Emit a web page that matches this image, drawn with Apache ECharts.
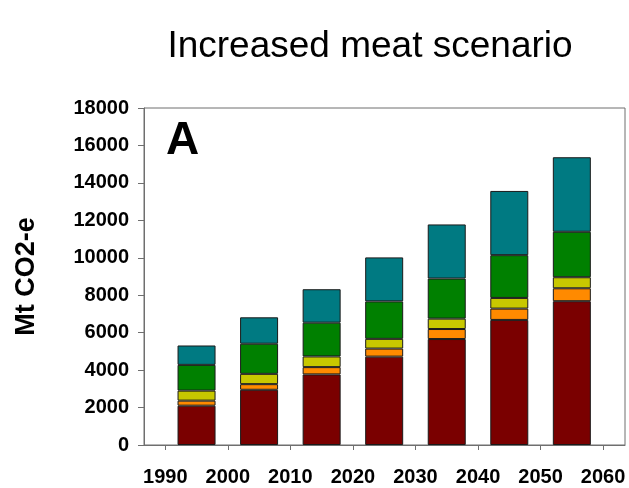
<!DOCTYPE html>
<html>
<head>
<meta charset="utf-8">
<script src="https://cdn.jsdelivr.net/npm/echarts@6/dist/echarts.min.js"></script>
<style>
  html, body { margin: 0; padding: 0; background: #fff; }
  #chart { width: 629px; height: 488px; }
</style>
</head>
<body>
<div id="chart"></div>
<script>
// Decade midpoints where each stacked bar sits
const years = [1995, 2005, 2015, 2025, 2035, 2045, 2055];
// Emission components, Mt CO2-e, stacked bottom to top
const seriesRed    = [2100, 2950, 3770, 4720, 5660, 6680, 7680];
const seriesOrange = [270, 300, 390, 430, 535, 605, 690];
const seriesYellow = [535, 550, 570, 520, 555, 570, 590];
const seriesGreen  = [1375, 1610, 1805, 2000, 2140, 2285, 2430];
const seriesTeal   = [1035, 1410, 1785, 2350, 2890, 3430, 3980];
// Axis tick labels
const xTicks = [1990, 2000, 2010, 2020, 2030, 2040, 2050, 2060];
const yTicks = [0, 2000, 4000, 6000, 8000, 10000, 12000, 14000, 16000, 18000];

const layers = [
  { name: 'red', values: seriesRed, color: '#7A0000' },
  { name: 'orange', values: seriesOrange, color: '#FF8A00' },
  { name: 'yellow', values: seriesYellow, color: '#C8C800' },
  { name: 'green', values: seriesGreen, color: '#008000' },
  { name: 'teal', values: seriesTeal, color: '#007A82' }
];

const font = 'Liberation Sans, Arial, Helvetica, sans-serif';
const axisGray = '#6f6f6f';

const chart = echarts.init(document.getElementById('chart'));
chart.setOption({
  animation: false,
  backgroundColor: '#fff',
  title: [
    {
      text: 'Increased meat scenario',
      left: 365, top: 23, textAlign: 'center',
      textStyle: { fontFamily: font, fontSize: 37, fontWeight: 'normal', color: '#000' }
    },
    {
      text: 'A',
      left: 161, top: 113,
      textStyle: { fontFamily: font, fontSize: 46, fontWeight: 'bold', color: '#000' }
    }
  ],
  grid: {
    left: 144, top: 108, right: 4, bottom: 43,
    show: true, borderColor: axisGray, borderWidth: 1
  },
  xAxis: {
    type: 'value',
    min: 1986.6, max: 2063.5,
    axisLine: { show: true, lineStyle: { color: axisGray } },
    axisTick: { show: true, length: 5, customValues: xTicks, lineStyle: { color: axisGray } },
    axisLabel: {
      customValues: xTicks, margin: 22,
      fontFamily: font, fontSize: 20, fontWeight: 'bold', color: '#000',
      formatter: v => String(v)
    },
    splitLine: { show: false }
  },
  yAxis: {
    type: 'value',
    min: yTicks[0], max: yTicks[yTicks.length - 1], interval: 2000,
    name: 'Mt CO2-e', nameLocation: 'middle', nameRotate: 90, nameGap: 104,
    nameTextStyle: { fontFamily: font, fontSize: 27, fontWeight: 'bold', color: '#000' },
    axisLine: { show: true, lineStyle: { color: axisGray } },
    axisTick: { show: true, length: 6, lineStyle: { color: axisGray } },
    axisLabel: {
      margin: 15,
      fontFamily: font, fontSize: 20, fontWeight: 'bold', color: '#000',
      formatter: v => String(v)
    },
    splitLine: { show: false }
  },
  // value first, year second, so the stack runs along the vertical value
  series: layers.map(l => ({
    name: l.name,
    type: 'bar',
    stack: 'total',
    barWidth: 38,
    encode: { x: 1, y: 0 },
    data: years.map((y, i) => [l.values[i], y]),
    itemStyle: { color: l.color, borderColor: '#1a1a1a', borderWidth: 1 }
  }))
});
</script>
</body>
</html>
